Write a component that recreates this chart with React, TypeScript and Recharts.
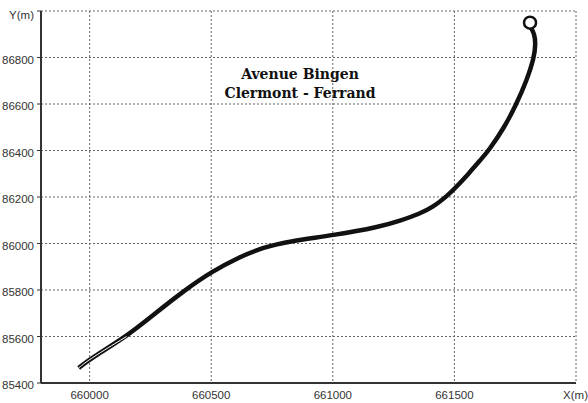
import React from 'react';
import { LineChart, Line, XAxis, YAxis, CartesianGrid, ReferenceDot } from 'recharts';

// street centreline, Lambert coordinates in metres
const roadX = [
  659955, 660000, 660152, 660270, 660392, 660500, 660618, 660713, 660824, 661000,
  661194, 661276, 661358, 661413, 661463, 661505, 661559, 661607, 661641, 661706,
  661755, 661797, 661828, 661834, 661829, 661815,
];
const roadY = [
  85465, 85503, 85600, 85700, 85800, 85878, 85943, 85983, 86010, 86035,
  86072, 86098, 86128, 86158, 86198, 86240, 86301, 86359, 86400, 86500,
  86600, 86700, 86800, 86860, 86900, 86928,
];

// end of the route (roundabout)
const endX = 661811;
const endY = 86950;

const xTicks = [660000, 660500, 661000, 661500, 662000];
const yTicks = [85400, 85600, 85800, 86000, 86200, 86400, 86600, 86800, 87000];

const road = roadX.map((x, i) => ({ x, y: roadY[i] }));
// first stretch is drawn as a hollow double line
const roadStart = road.slice(0, 3);

const FONT = '"Liberation Sans", Arial, sans-serif';

const YTick = (props: any) => {
  const { x, y, payload } = props;
  const top = payload.value === 87000;
  return (
    <text
      x={x}
      y={y + (top ? 4 : 2)}
      dy="0.355em"
      textAnchor="end"
      fontFamily={FONT}
      fontSize={11.5}
      fill="#333"
    >
      {top ? 'Y(m)' : payload.value}
    </text>
  );
};

const App = () => {
  return (
    <div style={{ position: 'absolute', left: 0, top: 0, width: 588, height: 403, background: '#fff' }}>
      <LineChart width={588} height={403} margin={{ top: 11, right: 12, left: 0, bottom: 0 }}>
        <CartesianGrid stroke="#666" strokeDasharray="2 2" />
        <XAxis
          type="number"
          dataKey="x"
          domain={[659800, 662000]}
          ticks={xTicks}
          tickFormatter={(v: number) => (v === 662000 ? 'X(m)' : String(v))}
          height={20}
          tickSize={0}
          tickMargin={8}
          tick={{ fontFamily: FONT, fontSize: 11.5, fill: '#333' }}
          axisLine={{ stroke: '#333', strokeWidth: 2 }}
          allowDataOverflow
        />
        <XAxis
          xAxisId="inner"
          type="number"
          domain={[659800, 662000]}
          ticks={xTicks}
          height={0}
          mirror
          tick={false}
          tickSize={4}
          tickLine={{ stroke: '#333' }}
          axisLine={false}
        />
        <XAxis
          xAxisId="top"
          orientation="top"
          type="number"
          domain={[659800, 662000]}
          height={0}
          tick={false}
          tickLine={false}
          axisLine={{ stroke: '#888' }}
        />
        <YAxis
          type="number"
          dataKey="y"
          domain={[85400, 87000]}
          ticks={yTicks}
          width={41}
          tickSize={4}
          tickMargin={3}
          tick={<YTick />}
          tickLine={{ stroke: '#333' }}
          axisLine={{ stroke: '#333', strokeWidth: 2 }}
          allowDataOverflow
        />
        <YAxis
          yAxisId="right"
          orientation="right"
          type="number"
          domain={[85400, 87000]}
          ticks={yTicks}
          width={0}
          mirror
          tick={false}
          tickSize={4}
          tickLine={{ stroke: '#555' }}
          axisLine={{ stroke: '#888', strokeWidth: 1.5 }}
        />
        <Line
          data={road}
          dataKey="y"
          type="basis"
          stroke="#111"
          strokeWidth={4.5}
          dot={false}
          isAnimationActive={false}
        />
        <Line
          data={roadStart}
          dataKey="y"
          type="basis"
          stroke="#fff"
          strokeWidth={1}
          dot={false}
          isAnimationActive={false}
        />
        <ReferenceDot x={endX} y={endY} r={6} fill="#fff" stroke="#111" strokeWidth={2.5} />
      </LineChart>
      <div
        style={{
          position: 'absolute',
          left: 200,
          top: 65,
          width: 200,
          textAlign: 'center',
          fontFamily: '"DejaVu Serif", serif',
          fontWeight: 'bold',
          fontSize: 14,
          lineHeight: '19px',
          color: '#111',
        }}
      >
        Avenue Bingen
        <br />
        Clermont - Ferrand
      </div>
    </div>
  );
};

export default App;
